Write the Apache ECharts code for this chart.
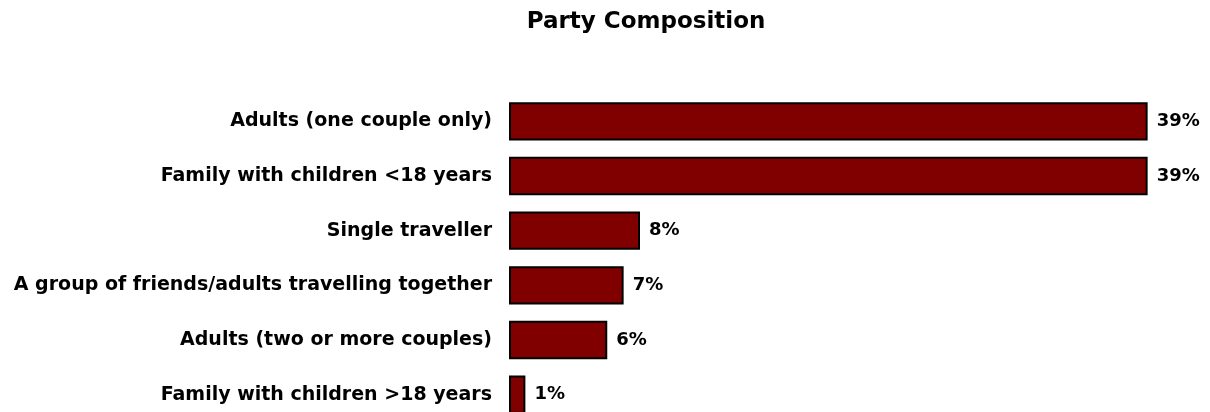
<!DOCTYPE html>
<html><head><meta charset="utf-8">
<script src="https://cdn.jsdelivr.net/npm/echarts@6/dist/echarts.min.js"></script>
<style>html,body{margin:0;padding:0;background:#fff}#c{width:1210px;height:412px}</style>
</head><body><div id="c"></div>
<script>
const categories = ["Adults (one couple only)","Family with children <18 years","Single traveller","A group of friends/adults travelling together","Adults (two or more couples)","Family with children >18 years"];
const values = [39,39,8,7,6,1];
const chart = echarts.init(document.getElementById('c'));
chart.setOption({
  animation:false,
  title:{text:'Party Composition',left:641,top:6,textAlign:'center',textStyle:{fontFamily:'DejaVu Sans',fontWeight:'bold',fontSize:23,color:'#000'}},
  grid:{left:509,top:94,width:655,height:328,outerBoundsMode:'none'},
  xAxis:{type:'value',min:0,max:40,show:false},
  yAxis:{type:'category',data:categories,inverse:true,axisLine:{show:false},axisTick:{show:false},
    axisLabel:{margin:17,fontFamily:'DejaVu Sans',fontWeight:'bold',fontSize:19,color:'#000'}},
  series:[{type:'bar',data:values,barCategoryGap:'30%',
    itemStyle:{color:'#800000',borderColor:'#000',borderWidth:2},
    label:{show:true,position:'right',distance:9,formatter:'{c}%',fontFamily:'DejaVu Sans',fontWeight:'bold',fontSize:18,color:'#000'}}]
});
</script></body></html>
